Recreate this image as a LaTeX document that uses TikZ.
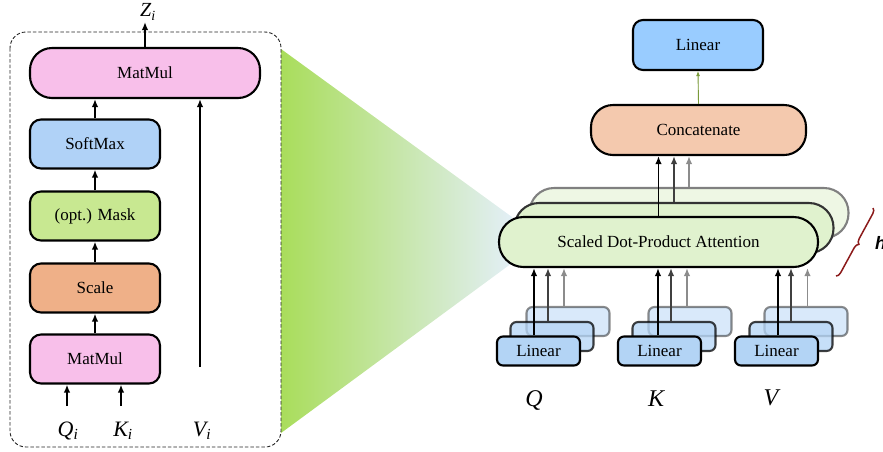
\documentclass[tikz,border=0pt]{standalone}
\usepackage{fontspec}
\setmainfont{Liberation Serif}
\newfontfamily\hsans{Liberation Sans}
\usetikzlibrary{arrows.meta,decorations.pathreplacing}

\definecolor{pinkfill}{HTML}{F8BFEA}
\definecolor{softblue}{HTML}{B0D2F7}
\definecolor{maskgreen}{HTML}{C8E891}
\definecolor{scaleorange}{HTML}{EFB088}
\definecolor{linblue}{HTML}{99CCFF}
\definecolor{catfill}{HTML}{F4C9AE}
\definecolor{attgreen}{HTML}{E0F2CE}
\definecolor{attback}{HTML}{EEF7E4}
\definecolor{smallblue}{HTML}{B3D4F5}
\definecolor{funnelA}{HTML}{A9DD5B}
\definecolor{funnelB}{HTML}{E3EFF6}
\definecolor{olivearrow}{HTML}{7A9A3A}
\definecolor{bracered}{HTML}{8B1A1A}

\begin{document}
\begin{tikzpicture}[x=1pt,y=-1pt,
  box/.style={draw=black,line width=2.1pt,inner sep=0pt,
    font=\fontsize{17}{20}\selectfont},
  leftbox/.style={box,minimum width=130pt,minimum height=49pt,rounded corners=11pt},
  attbox/.style={box,minimum width=319pt,minimum height=50pt,rounded corners=24.5pt},
  smallbox/.style={box,minimum width=83pt,minimum height=29pt,rounded corners=6pt,fill=smallblue},
  midlayer/.style={draw opacity=0.75,fill opacity=0.75},
  backlayer/.style={draw opacity=0.45,fill opacity=0.5},
  arr/.style={line width=1.8pt,-{Latex[length=8pt,width=6.5pt]}},
  arrmid/.style={arr,draw=black!75,fill=black!75},
  arrback/.style={arr,draw=black!45,fill=black!45},
  varlab/.style={font=\fontsize{22}{24}\selectfont\itshape,inner sep=0pt},
  biglab/.style={font=\fontsize{24}{26}\selectfont\itshape,inner sep=0pt}
]
\useasboundingbox (0,0) rectangle (883,451);

% zoom funnel from the detail panel to the attention block
\shade[left color=funnelA,right color=funnelB]
  (281,49) -- (512,217) -- (512,263) -- (281,433) -- cycle;

% ---------- detail of one attention head ----------
\draw[dashed,dash pattern=on 3.5pt off 2pt,line width=0.9pt,draw=black!85,rounded corners=16pt]
  (10,32) rectangle (281,447);

\node[box,fill=pinkfill,minimum width=230pt,minimum height=50pt,rounded corners=22pt]
  (mmtop) at (145,73) {MatMul};
\node[leftbox,fill=softblue]    (soft)  at (95,144) {SoftMax};
\node[leftbox,fill=maskgreen]   (mask)  at (95,216) {(opt.) Mask};
\node[leftbox,fill=scaleorange] (scale) at (95,288) {Scale};
\node[leftbox,fill=pinkfill]    (mmbot) at (95,359) {MatMul};

\draw[arr] (mmbot.north) -- (scale.south);
\draw[arr] (scale.north) -- (mask.south);
\draw[arr] (mask.north) -- (soft.south);
\draw[arr] (soft.north) -- (soft.north |- mmtop.south);

\coordinate (zout) at (145,22);
\draw[arr] (mmtop.north) -- (zout);
\node[varlab,font=\fontsize{20}{22}\selectfont\itshape] (zlab) at (148,12) {Z\textsubscript{i}};

\coordinate (qin) at (67,406);
\coordinate (kin) at (121,406);
\coordinate (vin) at (200,367);
\draw[arr] (qin) -- (qin |- mmbot.south);
\draw[arr] (kin) -- (kin |- mmbot.south);
\draw[arr] (vin) -- (vin |- mmtop.south);

\node[varlab] (qlab) at (68,431) {Q\textsubscript{i}};
\node[varlab] (klab) at (123,431) {K\textsubscript{i}};
\node[varlab] (vlab) at (202,431) {V\textsubscript{i}};

% ---------- multi-head attention ----------
\node[box,fill=linblue,minimum width=130pt,minimum height=50pt,rounded corners=10pt]
  (linout) at (698,45) {Linear};
\node[box,fill=catfill,minimum width=215pt,minimum height=50pt,rounded corners=22pt]
  (cat) at (698.5,130) {Concatenate};
\draw[line width=0.9pt,draw=olivearrow,-{Latex[length=5pt,width=4pt]},
  fill=olivearrow] (cat.north) -- (linout.south);

% stacked attention heads
\node[attbox,fill=attback,draw=black!50] (attC) at (689,213) {};
\node[attbox,fill=attgreen,draw=black!80] (attB) at (674,228) {};
\node[attbox,fill=attgreen] (attA) at (658.5,242) {Scaled Dot-Product Attention};

\draw[arrback] (attC.north) -- (attC.north |- cat.south);
\draw[arrmid]  (attB.north) -- (attB.north |- cat.south);
\draw[arr]     (attA.north) -- (attA.north |- cat.south);

% stacked linear projections
\node[smallbox,backlayer] (qC) at (568,321.5) {};
\node[smallbox,midlayer]  (qB) at (552,336.5) {};
\node[smallbox]           (qA) at (538.5,351) {Linear};
\node[smallbox,backlayer] (kC) at (690,321.5) {};
\node[smallbox,midlayer]  (kB) at (674,336.5) {};
\node[smallbox]           (kA) at (659.5,351) {Linear};
\node[smallbox,backlayer] (vC) at (806,321.5) {};
\node[smallbox,midlayer]  (vB) at (791,336.5) {};
\node[smallbox]           (vA) at (776.5,351) {Linear};

\draw[arrback] ([xshift=-4pt]qC.north) -- ([xshift=-4pt]qC.north |- attA.south);
\draw[arrmid]  ([xshift=-4pt]qB.north) -- ([xshift=-4pt]qB.north |- attA.south);
\draw[arr]     ([xshift=-4.5pt]qA.north) -- ([xshift=-4.5pt]qA.north |- attA.south);
\draw[arrback] ([xshift=-3pt]kC.north) -- ([xshift=-3pt]kC.north |- attA.south);
\draw[arrmid]  ([xshift=-3pt]kB.north) -- ([xshift=-3pt]kB.north |- attA.south);
\draw[arr]     ([xshift=-1.5pt]kA.north) -- ([xshift=-1.5pt]kA.north |- attA.south);
\draw[arrback] ([xshift=1.5pt]vC.north) -- ([xshift=1.5pt]vC.north |- attA.south);
\draw[arrmid]  (vB.north) -- (vB.north |- attA.south);
\draw[arr]     ([xshift=1.5pt]vA.north) -- ([xshift=1.5pt]vA.north |- attA.south);

\node[biglab] (qbig) at (534,400) {Q};
\node[biglab] (kbig) at (656,399) {K};
\node[biglab] (vbig) at (771,398) {V};

% number of heads
\coordinate (bracetop) at (873,208);
\coordinate (bracebot) at (836,276);
\draw[decorate,decoration={brace,amplitude=5pt},draw=bracered,line width=1.5pt]
  (bracetop) -- (bracebot);
\node[anchor=west,inner sep=0pt,font=\hsans\bfseries\itshape\fontsize{18}{20}\selectfont]
  (hlab) at (875,243) {h};
\end{tikzpicture}
\end{document}
